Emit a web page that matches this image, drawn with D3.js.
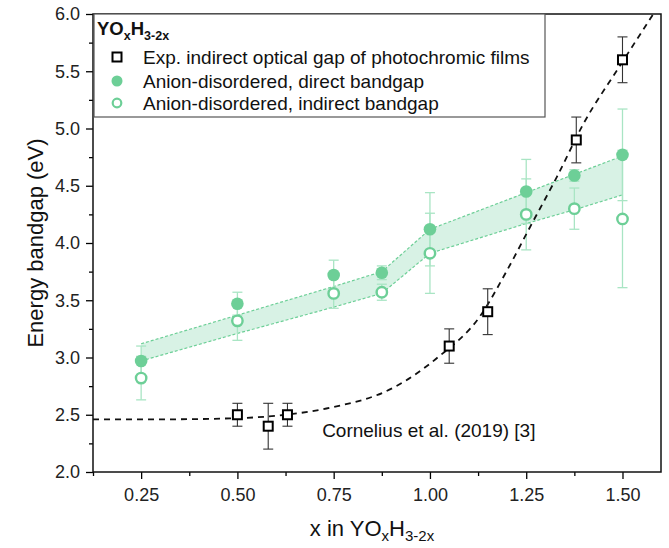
<!DOCTYPE html>
<html lang="en">
<head>
<meta charset="UTF-8">
<title>Energy bandgap vs x in YOxH3-2x</title>
<script src="https://d3js.org/d3.v7.min.js"></script>
<style>
body{margin:0;background:#fff;font-family:"Liberation Sans",Arial,sans-serif}
.tick text{font-size:18px;fill:#222}
.axis-title{font-size:22px;fill:#111}
.leg-text{font-size:19px;fill:#111}
.note{font-size:19px;fill:#111}
</style>
</head>
<body>
<svg id="chart" width="669" height="548"></svg>
<script>
// ── Data ──
var calcX        = [0.25, 0.5, 0.75, 0.875, 1.0, 1.25, 1.375, 1.5];
var directGap    = [2.97, 3.47, 3.72, 3.74, 4.12, 4.45, 4.59, 4.77];
var directErr    = [0.13, 0.10, 0.13, 0.06, 0.32, 0.28, 0.05, 0.40];
var indirectGap  = [2.82, 3.32, 3.56, 3.57, 3.91, 4.25, 4.30, 4.21];
var indirectErr  = [0.19, 0.17, 0.13, 0.07, 0.35, 0.31, 0.18, 0.60];
var bandUpper    = [3.12, 3.37, 3.62, 3.75, 4.12, 4.44, 4.60, 4.76];
var bandLower    = [2.97, 3.21, 3.44, 3.56, 3.91, 4.17, 4.29, 4.42];

var expX   = [0.5, 0.58, 0.63, 1.05, 1.15, 1.38, 1.5];
var expGap = [2.50, 2.40, 2.50, 3.10, 3.40, 4.90, 5.60];
var expErr = [0.10, 0.20, 0.10, 0.15, 0.20, 0.20, 0.20];

// dashed guide curve
var guideX = [0.125, 0.3, 0.5, 0.625, 0.74, 0.91, 1.02, 1.13, 1.2, 1.26, 1.33, 1.4, 1.49, 1.58];
var guideY = [2.46, 2.46, 2.47, 2.50, 2.56, 2.745, 3.0, 3.36, 3.76, 4.14, 4.58, 5.05, 5.53, 6.0];

var xTicks = [0.25, 0.5, 0.75, 1.0, 1.25, 1.5];
var yTicks = [2.0, 2.5, 3.0, 3.5, 4.0, 4.5, 5.0, 5.5, 6.0];

var GREEN = '#6dcf97', GREEN_LIGHT = '#a9e5c4', BAND = '#d8f2e5';

// ── Layout ──
var svg = d3.select('#chart');
var m = {left: 93, top: 14, right: 8, bottom: 76};
var W = 669 - m.left - m.right, H = 548 - m.top - m.bottom;
var g = svg.append('g').attr('transform', 'translate(' + m.left + ',' + m.top + ')');

var x = d3.scaleLinear().domain([0.125, 1.6]).range([0, W]);
var y = d3.scaleLinear().domain([2, 6]).range([H, 0]);

// ── Axes ──
var xMinor = d3.range(0.125, 1.6, 0.25);
var yMinor = d3.range(2.25, 6, 0.5);
g.append('g').attr('transform', 'translate(0,' + H + ')')
  .call(d3.axisBottom(x).tickValues(xMinor).tickSize(4).tickFormat(''))
  .call(function(s) { s.select('.domain').remove(); s.selectAll('line').attr('stroke-width', 1.3); });
g.append('g')
  .call(d3.axisLeft(y).tickValues(yMinor).tickSize(4).tickFormat(''))
  .call(function(s) { s.select('.domain').remove(); s.selectAll('line').attr('stroke-width', 1.3); });

g.append('g').attr('transform', 'translate(0,' + H + ')')
  .call(d3.axisBottom(x).tickValues(xTicks).tickSize(7).tickPadding(9).tickFormat(d3.format('.2f')))
  .call(function(s) { s.select('.domain').remove(); s.selectAll('line').attr('stroke-width', 1.3); s.selectAll('text').attr('font-family', null); });
g.append('g')
  .call(d3.axisLeft(y).tickValues(yTicks).tickSize(7).tickPadding(6).tickFormat(d3.format('.1f')))
  .call(function(s) { s.select('.domain').remove(); s.selectAll('line').attr('stroke-width', 1.3); s.selectAll('text').attr('font-family', null); });

// ── Green band ──
var bandIdx = d3.range(calcX.length);
g.append('path').datum(bandIdx)
  .attr('d', d3.area().x(function(i) { return x(calcX[i]); })
    .y0(function(i) { return y(bandLower[i]); }).y1(function(i) { return y(bandUpper[i]); }))
  .attr('fill', BAND);
[bandUpper, bandLower].forEach(function(arr) {
  g.append('path').datum(bandIdx)
    .attr('d', d3.line().x(function(i) { return x(calcX[i]); }).y(function(i) { return y(arr[i]); }))
    .attr('fill', 'none').attr('stroke', GREEN).attr('stroke-width', 1.2).attr('stroke-dasharray', '3,2');
});

// ── Error bars ──
function errorBars(xs, vs, es, color, width) {
  var eb = g.append('g').attr('stroke', color).attr('stroke-width', width).attr('fill', 'none');
  xs.forEach(function(xv, i) {
    var cx = x(xv), y0 = y(vs[i] - es[i]), y1 = y(vs[i] + es[i]);
    eb.append('line').attr('x1', cx).attr('x2', cx).attr('y1', y0).attr('y2', y1);
    eb.append('line').attr('x1', cx - 5).attr('x2', cx + 5).attr('y1', y0).attr('y2', y0);
    eb.append('line').attr('x1', cx - 5).attr('x2', cx + 5).attr('y1', y1).attr('y2', y1);
  });
}
errorBars(calcX, directGap, directErr, GREEN_LIGHT, 1.3);
errorBars(calcX, indirectGap, indirectErr, GREEN_LIGHT, 1.3);

// ── Dashed guide ──
g.append('path').datum(d3.range(guideX.length))
  .attr('d', d3.line().curve(d3.curveMonotoneX)
    .x(function(i) { return x(guideX[i]); }).y(function(i) { return y(guideY[i]); }))
  .attr('fill', 'none').attr('stroke', '#111').attr('stroke-width', 1.8).attr('stroke-dasharray', '6,5');

errorBars(expX, expGap, expErr, '#333', 1.1);

// ── Points ──
g.selectAll('.exp').data(expX).join('rect').attr('class', 'exp')
  .attr('x', function(d) { return x(d) - 4.5; })
  .attr('y', function(d, i) { return y(expGap[i]) - 4.5; })
  .attr('width', 9).attr('height', 9)
  .attr('fill', '#fff').attr('stroke', '#000').attr('stroke-width', 2);

g.selectAll('.ind').data(calcX).join('circle').attr('class', 'ind')
  .attr('cx', function(d) { return x(d); }).attr('cy', function(d, i) { return y(indirectGap[i]); })
  .attr('r', 5.2).attr('fill', '#fff').attr('stroke', GREEN).attr('stroke-width', 2.4);

g.selectAll('.dir').data(calcX).join('circle').attr('class', 'dir')
  .attr('cx', function(d) { return x(d); }).attr('cy', function(d, i) { return y(directGap[i]); })
  .attr('r', 6.3).attr('fill', GREEN);

// ── Frame ──
g.append('rect').attr('width', W).attr('height', H)
  .attr('fill', 'none').attr('stroke', '#111').attr('stroke-width', 1.5);

// ── Annotation ──
g.append('text').attr('class', 'note').attr('x', x(0.72)).attr('y', y(2.31))
  .text('Cornelius et al. (2019) [3]');

// ── Legend ──
var leg = svg.append('g').attr('transform', 'translate(94,14)');
leg.append('rect').attr('width', 451).attr('height', 103)
  .attr('fill', '#fff').attr('stroke', '#555').attr('stroke-width', 1.2);
var title = leg.append('text').attr('x', 3).attr('y', 21)
  .attr('font-size', 18.5).attr('font-weight', 'bold').attr('fill', '#111');
title.append('tspan').text('YO');
title.append('tspan').attr('font-size', 12.5).attr('dy', 5).text('x');
title.append('tspan').attr('dy', -5).text('H');
title.append('tspan').attr('font-size', 12.5).attr('dy', 5).text('3-2x');

var legItems = ['Exp. indirect optical gap of photochromic films',
                'Anion-disordered, direct bandgap',
                'Anion-disordered, indirect bandgap'];
var legY = [43, 67, 89];
leg.append('rect').attr('x', 23 - 4.5).attr('y', legY[0] - 4.5).attr('width', 9).attr('height', 9)
  .attr('fill', '#fff').attr('stroke', '#000').attr('stroke-width', 2);
leg.append('circle').attr('cx', 23).attr('cy', legY[1]).attr('r', 5.5).attr('fill', GREEN);
leg.append('circle').attr('cx', 23).attr('cy', legY[2]).attr('r', 4.3)
  .attr('fill', '#fff').attr('stroke', GREEN).attr('stroke-width', 2.2);
legItems.forEach(function(t, i) {
  leg.append('text').attr('class', 'leg-text').attr('x', 49).attr('y', legY[i] + 6.5).text(t);
});

// ── Axis titles ──
svg.append('text').attr('class', 'axis-title')
  .attr('transform', 'translate(43,' + (m.top + H / 2) + ') rotate(-90)')
  .attr('text-anchor', 'middle').text('Energy bandgap (eV)');
var xt = svg.append('text').attr('class', 'axis-title')
  .attr('x', m.left + W / 2 - 5).attr('y', 536).attr('text-anchor', 'middle');
xt.append('tspan').text('x in YO');
xt.append('tspan').attr('font-size', 15).attr('dy', 5).text('x');
xt.append('tspan').attr('dy', -5).text('H');
xt.append('tspan').attr('font-size', 15).attr('dy', 5).text('3-2x');
</script>
</body>
</html>
